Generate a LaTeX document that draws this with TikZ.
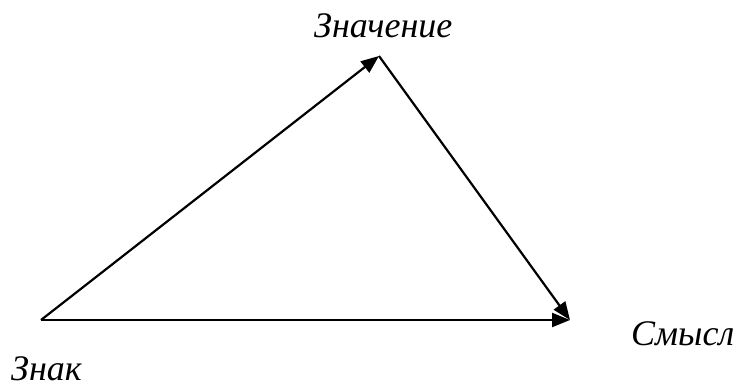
\documentclass[tikz,border=0pt]{standalone}
\usepackage{fontspec}
\setmainfont{Liberation Serif}
\usetikzlibrary{arrows.meta}
\begin{document}
\begin{tikzpicture}[x=1pt,y=-1pt,
  edge/.style={line width=2.2pt,-{Triangle[length=18pt,width=14pt]}},
  lbl/.style={inner sep=0pt,anchor=base west,font=\fontsize{36}{40}\selectfont\itshape}]
\useasboundingbox (0,0) rectangle (737,389);
\coordinate (znak) at (41,320);
\coordinate (znach) at (379,56);
\coordinate (smysl) at (570,320);
\draw[edge] (znak) -- (znach);
\draw[edge] (znach) -- (smysl);
\draw[edge] (znak) -- (smysl);
\node[lbl] (tznach) at (314,37) {Значение};
\node[lbl] (tsmysl) at (631,345) {Смысл};
\node[lbl] (tznak) at (11,380) {Знак};
\end{tikzpicture}
\end{document}
